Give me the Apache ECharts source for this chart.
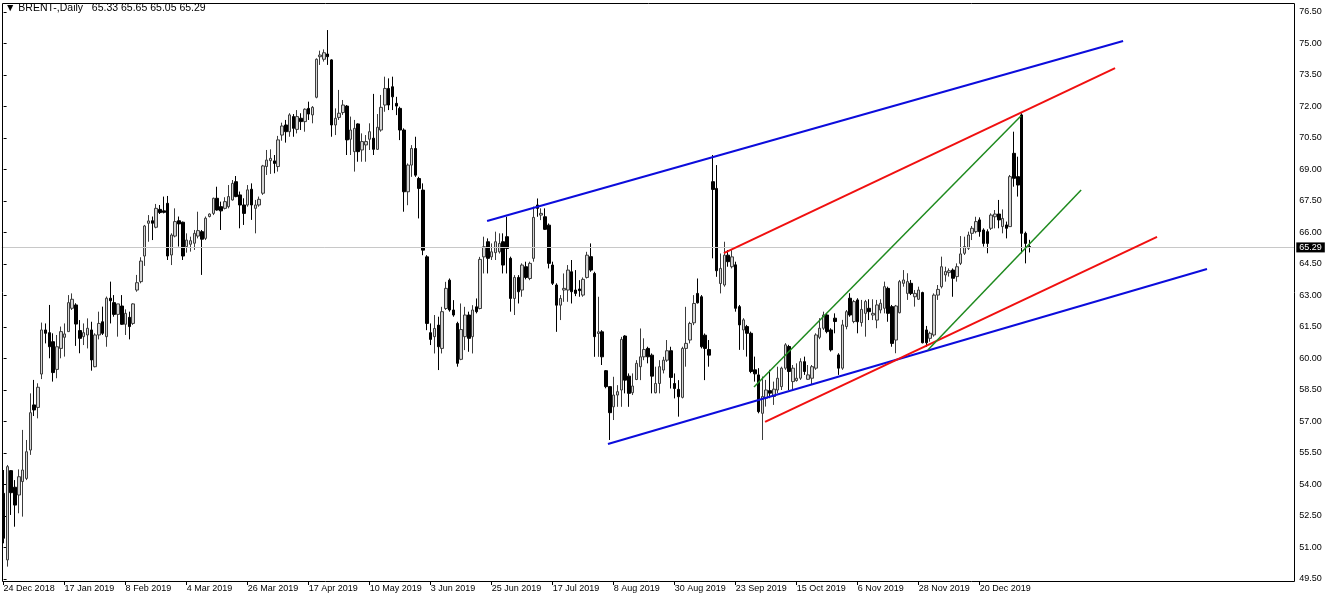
<!DOCTYPE html>
<html>
<head>
<meta charset="utf-8">
<script src="https://cdn.jsdelivr.net/npm/echarts@6/dist/echarts.min.js"></script>
<style>
html,body{margin:0;padding:0;background:#fff;}
#chart{width:1332px;height:601px;}
</style>
</head>
<body>
<div id="chart"></div>
<script>
// ---- DATA ----
const symbolName = 'BRENT-,Daily';
const tickLabels = ['24 Dec 2018','17 Jan 2019','8 Feb 2019','4 Mar 2019','26 Mar 2019','17 Apr 2019','10 May 2019','3 Jun 2019','25 Jun 2019','17 Jul 2019','8 Aug 2019','30 Aug 2019','23 Sep 2019','15 Oct 2019','6 Nov 2019','28 Nov 2019','20 Dec 2019'];
const barsPerLabel = 16;
const totalSlots = 339;
const priceTicks = {min: 49.5, max: 76.5, step: 1.5};

const open = [53.58,50.41,54.66,53.87,53.50,54.14,54.29,55.64,57.79,57.67,59.26,61.36,61.23,60.80,59.48,60.48,61.01,61.28,62.39,62.55,61.33,61.04,61.12,61.36,59.61,61.12,61.75,61.04,62.87,62.66,62.10,62.50,61.63,61.96,61.67,63.26,63.66,64.88,66.44,66.56,66.25,67.10,67.03,67.39,64.93,65.83,66.56,66.49,65.33,65.44,65.49,65.83,66.04,65.72,66.76,66.91,67.63,67.23,67.15,67.23,67.55,68.42,67.79,67.31,67.31,68.06,67.15,67.31,67.87,69.14,69.42,69.41,69.14,70.64,71.12,70.80,71.52,70.91,71.44,71.28,71.91,71.60,72.44,74.37,74.25,74.50,74.22,71.12,71.48,71.71,72.02,70.44,69.85,71.17,69.93,70.17,70.44,70.49,69.96,70.88,72.07,72.86,72.94,72.15,71.91,70.88,67.94,69.21,70.00,68.57,68.02,64.84,61.23,61.04,61.59,60.48,62.38,63.73,62.31,61.67,59.96,61.04,62.07,61.04,62.46,62.38,64.84,65.56,64.84,65.04,65.08,65.56,65.80,64.77,62.86,63.86,63.26,64.37,63.81,64.77,67.31,66.83,66.75,66.35,64.45,63.50,62.54,63.26,63.26,64.13,63.26,63.31,63.02,63.86,64.85,64.05,61.19,61.27,59.42,58.66,57.70,58.26,58.50,61.07,59.16,58.37,59.00,59.61,60.08,60.48,60.16,58.37,58.81,59.45,59.92,60.37,58.81,58.53,58.15,60.48,60.88,61.70,63.10,62.94,61.11,60.43,68.42,68.10,63.57,63.50,64.92,64.37,64.46,62.47,61.36,61.52,61.20,59.46,59.22,57.39,58.11,58.47,58.19,58.50,58.66,59.54,60.57,58.90,58.95,59.06,59.85,59.01,59.06,59.54,61.01,61.44,62.07,61.36,61.92,60.17,59.54,61.52,62.87,61.76,62.79,61.71,62.15,62.39,62.07,61.83,62.31,62.39,63.34,62.47,60.88,62.18,63.58,63.10,63.58,62.94,62.82,63.14,61.36,60.96,61.12,63.02,63.42,63.98,64.09,64.21,63.90,64.53,65.01,65.25,65.96,66.04,66.60,66.12,66.04,66.20,66.75,66.88,66.28,66.36,66.28,69.77,68.66,71.60,65.96,65.33];
const high = [54.69,54.93,54.69,54.21,54.72,56.60,56.12,58.34,58.98,58.82,61.71,61.67,62.55,61.20,61.12,61.52,61.67,63.02,63.10,62.63,61.83,61.67,61.91,61.75,61.20,62.23,62.47,62.95,63.66,63.02,62.60,63.02,62.34,62.23,62.63,63.98,64.82,66.36,66.83,66.76,67.36,67.31,67.71,67.74,65.96,67.15,66.76,66.52,65.96,65.80,66.12,66.99,66.12,66.76,66.91,67.66,68.18,67.47,67.68,68.26,68.50,68.69,67.95,67.63,68.26,68.34,67.55,67.71,69.22,69.93,69.96,69.69,70.60,71.23,71.36,71.68,71.64,71.83,71.68,71.91,72.23,72.02,74.29,74.66,74.72,75.64,74.25,71.91,72.79,72.31,72.07,71.52,71.36,71.20,70.72,70.64,71.20,72.60,71.64,72.55,73.42,73.34,73.42,72.46,71.99,70.96,69.29,70.16,70.56,68.65,68.34,64.92,61.67,62.07,61.99,62.46,63.65,63.81,62.78,61.75,62.62,62.46,62.23,62.54,62.86,64.84,65.80,65.72,65.48,66.04,65.96,65.96,66.75,64.85,63.97,63.97,64.53,64.61,64.61,67.23,67.62,67.15,67.15,66.43,64.61,63.58,63.02,64.05,64.45,64.69,64.21,63.73,63.86,65.08,65.48,64.13,62.94,61.35,59.45,58.66,59.13,58.73,61.03,61.11,59.29,59.29,59.92,61.43,60.96,60.56,60.24,59.61,59.92,60.08,60.88,60.56,59.29,58.97,60.56,62.46,61.75,63.02,63.81,63.02,61.19,60.88,69.69,69.21,65.00,65.56,65.16,65.16,64.61,62.55,61.92,61.60,61.28,60.09,59.54,59.14,58.98,59.46,58.90,59.61,59.61,60.73,60.65,59.69,59.77,60.01,60.09,59.69,59.69,61.20,61.92,62.23,62.15,61.44,62.15,60.25,61.84,62.31,63.11,62.79,62.87,62.79,62.79,62.82,62.82,62.79,62.82,63.66,63.42,62.55,62.55,63.74,64.21,64.06,63.74,63.26,63.42,63.18,61.55,61.28,63.10,63.50,64.85,64.37,64.29,64.29,64.53,65.83,65.80,66.04,66.31,66.75,66.72,66.20,66.15,66.91,67.07,67.55,67.10,66.52,68.74,70.80,69.61,71.68,66.04,65.65];
const low = [51.20,50.09,52.55,51.99,52.63,52.47,54.21,55.41,57.26,57.15,59.02,60.72,60.01,58.90,59.06,60.01,60.09,61.28,62.31,60.60,60.25,60.64,60.48,59.42,59.58,60.91,61.12,60.56,61.67,61.99,61.04,61.60,61.12,60.91,61.60,63.18,63.58,64.41,65.56,65.64,66.20,66.88,66.91,64.69,64.45,65.77,65.33,64.69,65.04,65.09,65.17,65.72,63.98,65.64,66.72,66.83,67.04,66.12,67.10,67.15,67.52,67.68,66.20,66.36,67.23,66.60,65.96,67.23,67.79,68.74,68.79,68.82,68.90,70.37,70.28,70.56,70.56,70.72,70.88,70.80,71.36,71.20,72.39,73.98,74.14,73.98,70.56,70.64,71.36,71.60,69.69,69.69,68.90,69.37,69.37,69.37,69.93,69.69,69.93,70.80,71.75,71.83,71.83,71.59,70.40,66.99,67.30,68.65,68.65,66.67,64.92,61.35,60.64,60.24,59.45,60.24,62.31,62.23,61.99,59.61,59.92,60.40,60.32,60.24,62.15,62.34,64.05,64.05,64.69,64.69,65.00,64.05,64.05,62.23,62.07,62.62,62.94,63.77,63.73,64.61,66.75,66.59,66.12,64.29,63.50,61.27,61.83,62.70,62.70,62.62,62.97,62.94,62.94,63.81,64.13,60.08,60.08,59.69,58.58,56.12,57.07,57.70,57.70,58.34,57.70,58.26,58.97,58.97,59.92,59.77,58.34,58.34,58.34,59.29,59.84,58.57,58.10,57.23,58.10,59.61,60.72,61.59,62.62,60.48,58.97,59.61,64.77,63.89,63.10,63.42,64.37,64.29,62.23,60.41,60.41,60.09,59.30,58.90,57.39,56.12,57.71,58.11,57.79,58.35,58.50,59.46,58.50,58.50,58.90,58.98,59.22,58.98,58.74,59.46,60.92,61.36,61.20,60.33,61.20,59.22,59.46,61.39,61.99,61.68,61.20,61.52,61.04,61.83,61.83,61.44,62.15,62.15,61.75,60.56,60.25,62.15,63.42,62.79,63.02,62.47,62.79,60.72,60.56,60.80,61.04,62.79,63.34,63.66,63.90,62.94,63.66,64.45,64.93,65.17,65.64,65.96,65.80,65.33,65.01,66.12,66.20,66.20,65.96,65.72,66.28,68.18,67.71,65.01,64.53,65.05];
const close = [51.44,54.85,53.61,53.02,54.37,54.69,55.56,57.42,57.55,58.63,61.36,61.20,60.56,59.33,60.56,61.28,61.17,62.66,62.82,61.64,60.96,61.23,61.44,59.93,61.12,61.67,61.20,62.87,62.75,62.10,62.60,61.63,62.15,61.52,62.60,63.61,64.64,66.31,66.55,66.44,67.15,66.95,66.96,64.88,65.88,66.52,66.41,64.88,65.64,65.61,65.96,66.09,65.68,66.68,66.88,67.63,67.07,67.03,67.47,67.71,68.34,67.71,67.31,66.91,68.03,67.31,67.31,67.58,69.17,69.45,69.53,69.29,70.41,71.07,70.80,71.60,70.96,71.52,71.28,71.87,71.64,71.96,74.25,74.45,74.56,74.37,71.12,71.44,71.68,72.07,70.41,70.88,70.96,69.85,70.33,70.33,70.80,69.96,71.01,71.96,72.86,72.07,72.46,72.02,70.88,67.94,69.21,70.00,68.73,68.10,65.16,61.67,60.91,61.43,60.56,62.23,63.34,62.31,62.07,59.77,61.38,62.07,60.96,62.31,62.23,64.72,65.32,64.77,65.08,65.56,65.48,64.45,65.24,62.86,63.86,63.18,64.45,63.86,64.53,66.72,67.15,66.91,66.15,64.53,63.58,62.54,62.86,63.34,64.21,63.18,63.10,63.23,63.77,64.92,64.21,61.04,61.27,60.08,58.66,57.42,58.26,58.42,60.91,58.97,58.34,58.69,59.77,60.08,60.43,60.08,59.16,58.81,59.61,59.92,60.37,59.10,58.57,58.18,60.48,60.72,61.67,62.62,62.65,60.56,60.48,60.16,68.05,64.18,64.29,64.92,64.61,64.84,62.39,61.60,61.84,61.20,59.38,59.27,57.47,58.19,58.50,58.35,58.54,59.06,59.54,60.65,59.38,59.54,59.06,59.85,59.38,59.22,59.61,61.12,61.44,62.07,61.28,60.41,61.76,59.54,61.60,62.23,62.07,62.71,61.75,62.34,62.71,62.23,62.15,62.55,62.63,63.42,62.15,60.72,62.50,63.66,63.74,63.66,63.10,63.10,63.26,60.75,60.75,61.20,63.02,63.29,64.37,64.14,64.18,63.82,64.37,64.98,65.33,65.88,66.20,66.52,66.04,65.48,65.48,66.83,66.88,66.60,66.67,66.20,68.66,68.58,68.26,65.96,65.48,65.29];

// trend lines: [barIndex, price] end points
const blueUpper = [[126.8, 66.55], [293.6, 75.12]];
const blueLower = [[158.5, 55.93], [315.6, 64.26]];
const redUpper  = [[188.9, 65.02], [291.5, 73.83]];
const redLower  = [[199.7, 56.98], [302.5, 65.79]];
const greenUpper = [[196.8, 58.64], [266.8, 71.55]];
const greenLower = [[242.4, 60.40], [282.6, 68.02]];

// ---- BUILD ----
const slots = Array.from({length: totalSlots}, (_, i) => String(i));
const candles = open.map((o, i) => [o, close[i], low[i], high[i]]);
const last = close.length - 1;
const lastClose = close[last];
const lastLabelIndex = (tickLabels.length - 1) * barsPerLabel;
const showTick = (idx) => idx % barsPerLabel === 0 && idx <= lastLabelIndex;

const font = 'Liberation Sans, Arial, sans-serif';
const chart = echarts.init(document.getElementById('chart'), null, {renderer: 'canvas'});

function lineSeries(pts, color, width) {
  return {
    type: 'line', xAxisIndex: 1, yAxisIndex: 0, data: pts, symbol: 'none',
    silent: true, animation: false, z: 5,
    lineStyle: {color: color, width: width}
  };
}

const gridLeft = 1.7;
const gridWidth = 1292.6;

chart.setOption({
  animation: false,
  backgroundColor: '#ffffff',
  grid: {left: gridLeft, width: gridWidth, top: 12, bottom: 22, containLabel: false},
  xAxis: [{
    type: 'category', data: slots, boundaryGap: true, offset: 2,
    axisLine: {show: false},
    axisTick: {show: true, alignWithLabel: true, interval: (i) => showTick(i), length: 4, lineStyle: {color: '#000'}},
    axisLabel: {
      interval: (i) => showTick(i), align: 'left', margin: 3,
      fontFamily: font, fontSize: 9, color: '#000',
      formatter: (v, i) => showTick(i) ? tickLabels[i / barsPerLabel] : ''
    },
    splitLine: {show: false}
  }, {
    type: 'value', min: -0.5, max: totalSlots - 0.5, show: false
  }],
  yAxis: [{
    type: 'value', position: 'right', min: priceTicks.min, max: priceTicks.max, interval: priceTicks.step,
    axisLine: {show: false},
    axisTick: {show: true, length: 3, lineStyle: {color: '#000'}},
    axisLabel: {fontFamily: font, fontSize: 9, color: '#000', margin: 5, formatter: (v) => v.toFixed(2)},
    splitLine: {show: false}
  }],
  graphic: [
    {type: 'rect', silent: true, z: 100, shape: {x: 2.5, y: 3.5, width: 1292, height: 578},
     style: {fill: null, stroke: '#000', lineWidth: 1}},
    {type: 'text', silent: true, z: 100, left: 5, top: 3,
     style: {text: '\u25BC ' + symbolName + '   ' + [open[last], high[last], low[last], close[last]].map(v => v.toFixed(2)).join(' '),
             font: '10.5px ' + font, fill: '#000'}}
  ],
  series: [
    {
      type: 'candlestick', data: candles, barWidth: 3, clip: false, z: 3,
      itemStyle: {color: '#d4d4d4', color0: '#000000', borderColor: '#3c3c3c', borderColor0: '#000000', borderWidth: 1},
      markLine: {
        silent: true, symbol: ['none', 'none'], animation: false,
        lineStyle: {color: '#c8c8c8', width: 1, type: 'solid'},
        label: {show: true, position: 'end', distance: 2, formatter: lastClose.toFixed(2),
                backgroundColor: '#000', color: '#fff', fontFamily: font, fontSize: 9, padding: [1, 3, 0, 3]},
        data: [{yAxis: lastClose}]
      }
    },
    lineSeries(blueUpper, '#0c0cdc', 2),
    lineSeries(blueLower, '#0c0cdc', 2),
    lineSeries(redUpper, '#f01010', 2),
    lineSeries(redLower, '#f01010', 2),
    lineSeries(greenUpper, '#1e8a1e', 1.5),
    lineSeries(greenLower, '#1e8a1e', 1.5)
  ]
});
</script>
</body>
</html>
